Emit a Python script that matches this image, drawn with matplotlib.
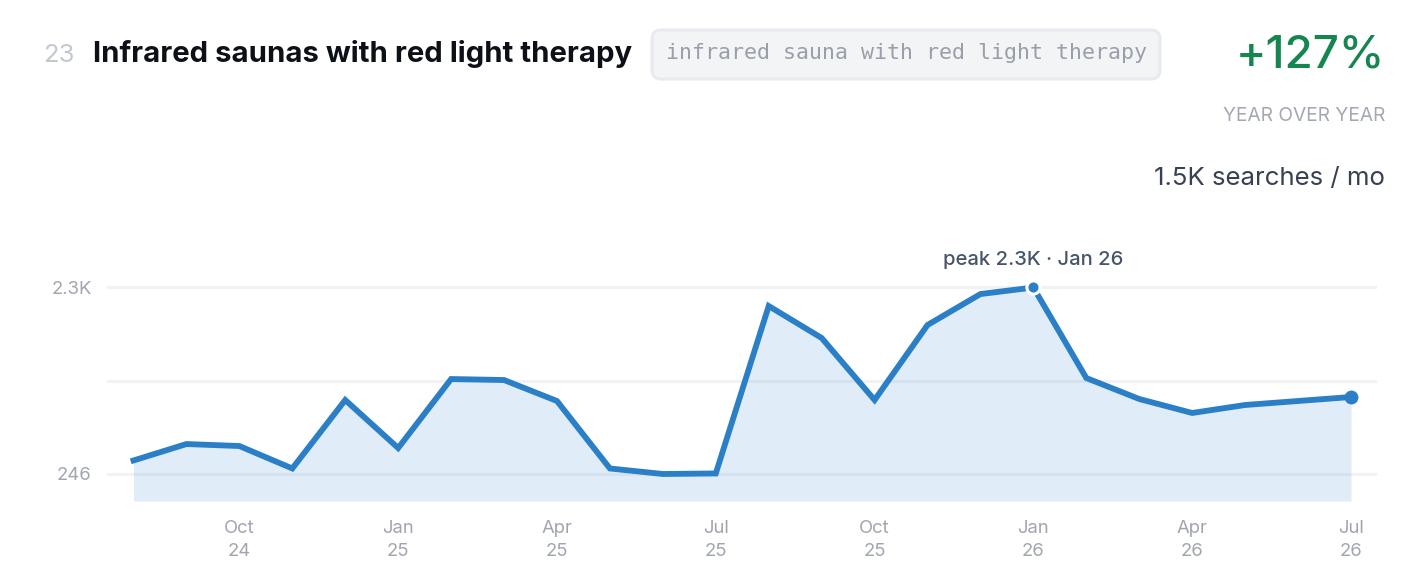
import matplotlib
matplotlib.use("Agg")
import matplotlib.pyplot as plt
from matplotlib.patches import FancyBboxPatch

# DATA
months = ["Aug 24", "Sep 24", "Oct 24", "Nov 24", "Dec 24", "Jan 25", "Feb 25", "Mar 25",
          "Apr 25", "May 25", "Jun 25", "Jul 25", "Aug 25", "Sep 25", "Oct 25", "Nov 25",
          "Dec 25", "Jan 26", "Feb 26", "Mar 26", "Apr 26", "May 26", "Jun 26", "Jul 26"]
searches = [395, 576, 554, 307, 1061, 532, 1292, 1281, 1050, 307, 246, 252,
            2096, 1744, 1061, 1887, 2228, 2300, 1303, 1072, 918, 1006, 1050, 1094]
tick_months = ["Oct 24", "Jan 25", "Apr 25", "Jul 25", "Oct 25", "Jan 26", "Apr 26", "Jul 26"]
y_ticks = [246, 1273, 2300]
y_tick_labels = ["246", "", "2.3K"]

W, H = 1420, 570
BLUE = "#2b7fc7"
GRID = "#f1f2f4"
GRAY = "#a0a5af"

plt.rcParams["font.family"] = "Inter"

fig = plt.figure(figsize=(W / 100, H / 100), dpi=100)

# overlay in pixel coordinates for the header
bg = fig.add_axes([0, 0, 1, 1])
bg.set_xlim(0, W)
bg.set_ylim(H, 0)
bg.axis("off")

bg.text(43, 56, "23", fontsize=18.5, color="#c3c8d0", va="center", ha="left")
bg.text(93, 54, "Infrared saunas with red light therapy", fontsize=21.1, color="#0d1117",
        va="center", ha="left", fontweight="bold")
bg.add_patch(FancyBboxPatch((652, 30), 508, 49, boxstyle="round,pad=0,rounding_size=9",
                            facecolor="#f3f4f6", edgecolor="#e8eaee", linewidth=2.2))
bg.text(666, 53, "infrared sauna with red light therapy", fontsize=15.55, color="#9aa0ab",
        va="center", ha="left", family="DejaVu Sans Mono")
bg.text(1385, 55, "+127%", fontsize=33, color="#15864f", va="center", ha="right", fontweight="medium")
bg.text(1385, 116, "YEAR OVER YEAR", fontsize=13.8, color="#a3a8b2", va="center", ha="right")
bg.text(1385, 179, "1.5K searches / mo", fontsize=18.6, color="#374151", va="center", ha="right")

# chart
ax = fig.add_axes([107 / W, 1 - 501 / H, (1377 - 107) / W, (501 - 270) / H])
ax.patch.set_alpha(0)
x = list(range(len(months)))
step = (1351 - 133.5) / 23
ax.set_xlim(-(133.5 - 107) / step, 23 + (1377 - 1351) / step)
per_px = (2300 - 246) / (474 - 287.5)
y_floor = 246 - (501 - 474) * per_px
ax.set_ylim(y_floor, 2300 + (287.5 - 270) * per_px)

for v in y_ticks:
    ax.axhline(v, color=GRID, linewidth=2.2, zorder=1)

ax.fill_between(x, searches, y_floor, color="#2a86d4", alpha=0.14, linewidth=0, zorder=2)
ax.plot(x, searches, color=BLUE, linewidth=4.2, solid_joinstyle="miter", zorder=3, clip_on=False)

peak = searches.index(max(searches))
ax.plot(x[peak], searches[peak], "o", color=BLUE, markersize=9.5, markeredgecolor="white",
        markeredgewidth=2.2, zorder=4, clip_on=False)
ax.plot(x[-1], searches[-1], "o", color=BLUE, markersize=10, markeredgewidth=0, zorder=4, clip_on=False)
ax.annotate("peak 2.3K · Jan 26", (x[peak], searches[peak]), xytext=(0, 18), textcoords="offset pixels",
            ha="center", va="bottom", fontsize=14.5, color="#475569", fontweight="medium")

for s in ax.spines.values():
    s.set_visible(False)
ax.set_xticks([months.index(m) for m in tick_months])
ax.set_xticklabels([m.replace(" ", "\n") for m in tick_months], fontsize=13.3, color=GRAY, linespacing=1.4)
ax.set_yticks(y_ticks)
ax.set_yticklabels(y_tick_labels, fontsize=13.3, color=GRAY)
ax.tick_params(length=0)
ax.tick_params(axis="x", pad=14)
ax.tick_params(axis="y", pad=11)

fig.savefig("out.png", dpi=100, facecolor="white")
